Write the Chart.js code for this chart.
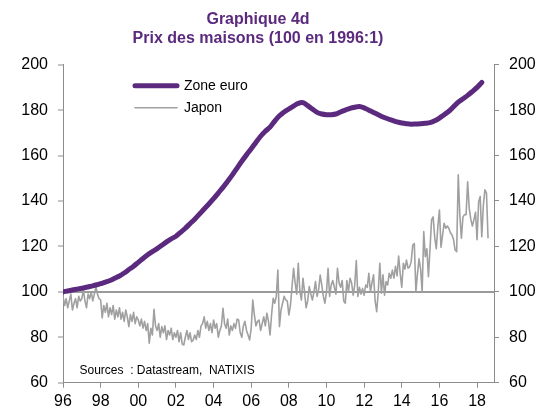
<!DOCTYPE html>
<html><head><meta charset="utf-8">
<script src="https://cdn.jsdelivr.net/npm/chart.js@4/dist/chart.umd.min.js"></script>
<style>html,body{margin:0;padding:0;background:#fff}#wrap{width:553px;height:409px}</style>
</head><body><div id="wrap"><canvas id="c" width="553" height="409"></canvas></div>
<script>
const titleLines = ['Graphique 4d', 'Prix des maisons (100 en 1996:1)'];
const sourceNote = 'Sources  : Datastream,  NATIXIS';
const seriesNames = ['Zone euro', 'Japon'];
const startYear = 1996;
// Zone euro, quarterly from 1996Q1
const euroQuarterly = [
  100, 100.4, 100.8, 101.2,
  101.6, 102.0, 102.5, 103.0,
  103.6, 104.3, 105.0, 106.0,
  107.0, 108.3, 109.8, 111.3,
  113.0, 114.7, 116.3, 117.7,
  119.0, 120.5, 122.0, 123.3,
  124.5, 126.2, 128.0, 130.0,
  132.0, 134.2, 136.5, 138.7,
  141.0, 143.5, 146.0, 148.7,
  151.5, 154.5, 157.5, 160.3,
  163.0, 165.8, 168.5, 170.7,
  172.5, 175.2, 177.5, 179.2,
  180.5, 181.8, 183.0, 183.3,
  182.0, 180.5, 179.0, 178.3,
  178.0, 178.0, 178.3, 179.2,
  180.0, 180.8, 181.3, 181.6,
  181.0, 180.0, 179.0, 178.0,
  177.0, 176.2, 175.5, 174.8,
  174.3, 174.0, 173.8, 173.9,
  174.0, 174.2, 174.5, 175.3,
  176.5, 178.0, 179.5, 181.5,
  183.5, 185.0, 186.5, 188.2,
  190.0, 192.2
];
// Japon, monthly from 1996:1
const japanMonthly = [
  98, 94, 97, 93, 96, 99, 92, 95, 97, 93, 98, 96,
  97, 100.8, 96, 93, 99, 97, 100, 96, 99, 102.3, 99, 97,
  96.4, 88.5, 94, 91, 95, 89, 93, 90, 94, 88, 92, 89,
  93, 88, 91, 87, 92, 89, 84.7, 90, 87, 91, 86, 89,
  87.6, 85, 88, 84, 87, 83, 86, 77.4, 84, 81, 92.3, 85,
  83, 86, 80, 84.7, 82, 85, 79, 83, 81, 84, 79, 82,
  80, 83, 78, 82, 77, 76.6, 80, 83, 79, 82, 78, 78.8,
  81, 79, 83, 80, 85, 86, 89, 84, 87, 83, 86, 82,
  87.6, 84, 86, 80, 83, 85, 92.8, 86, 84, 88, 81, 85,
  83, 86, 84, 88, 87.6, 82, 80, 85, 87, 83, 81, 78.8,
  84, 96.4, 90, 85, 87, 87.6, 83, 86, 89, 85, 90.6, 87,
  81, 90, 97.2, 95, 98, 109.6, 84.7, 92, 95, 98, 96.4, 96,
  89.8, 94, 102, 110.4, 104, 99, 112.6, 100.4, 96.4, 106, 100, 93,
  96, 102.3, 99, 96.4, 100, 104.5, 98, 101, 107.4, 103, 98, 95,
  100, 110.4, 98, 103, 105, 102, 99, 110.4, 104, 102, 105, 96,
  95, 105, 100, 106, 104, 98.5, 103, 113.8, 98, 102, 99, 101.5,
  98.5, 103, 102, 108.2, 100, 104, 107.5, 96, 91.3, 100, 112.6, 99.4,
  107.5, 98.5, 104.5, 103, 108.2, 106, 109.6, 106, 111.2, 107, 115.8, 108,
  102, 112.6, 110, 114, 110.4, 111, 113.3, 120.6, 121.3, 100, 108, 114.5,
  110, 100, 126.5, 115.5, 119, 106.7, 119, 131.7, 133, 124, 119, 128.7,
  136, 119.6, 125, 130.2, 128, 129, 128, 126, 125, 123, 118.4, 117.7,
  151.5, 134, 123.6, 133, 134, 134, 148.5, 136.8, 132, 129, 131.7, 135,
  123, 139.7, 142, 124.3, 138, 144.9, 143.5, 123.6
];
const yTickValues = [60, 80, 100, 120, 140, 160, 180, 200];
const xTickYears = [1996, 1998, 2000, 2002, 2004, 2006, 2008, 2010, 2012, 2014, 2016, 2018];

const FONT = '"Liberation Sans", Arial, sans-serif';
const PURPLE = '#5b2a7e';
const GREY = '#a0a0a0';
const AXIS = '#8c8c8c';

const euroPoints = euroQuarterly.map((v, i) => ({x: startYear + i / 4, y: v}));
const japanPoints = japanMonthly.map((v, i) => ({x: startYear + i / 12, y: v}));

const boxPlacer = {
  id: 'boxPlacer',
  afterLayout(chart) {
    const lg = chart.legend;
    if (lg) {
      const pad = lg.options.labels.padding;
      lg.left = 135 - pad;
      lg.top = 78.7 - pad;
    }
    const tb = chart.titleBlock;
    if (tb) {
      tb.left = 0;
      tb.right = 516;
      tb.width = 516;
    }
  }
};
const notePlugin = {
  id: 'note',
  afterDraw(chart) {
    const ctx = chart.ctx;
    ctx.save();
    ctx.font = '12px ' + FONT;
    ctx.fillStyle = '#000';
    ctx.textBaseline = 'alphabetic';
    ctx.textAlign = 'left';
    ctx.fillText(sourceNote, 79.5, 373.5);
    ctx.restore();
  }
};

const yTicksFn = s => { s.ticks = yTickValues.map(v => ({value: v})); };

new Chart(document.getElementById('c'), {
  type: 'line',
  data: {
    datasets: [
      {label: seriesNames[0], data: euroPoints, borderColor: PURPLE, backgroundColor: PURPLE,
       borderWidth: 5, borderCapStyle: 'round', borderJoinStyle: 'round',
       pointRadius: 0, pointHoverRadius: 0, pointBorderWidth: 5, pointBorderColor: PURPLE, pointStyle: 'line',
       tension: 0.3, yAxisID: 'y'},
      {label: seriesNames[1], data: japanPoints, borderColor: GREY, backgroundColor: GREY,
       borderWidth: 1.6, borderJoinStyle: 'round',
       pointRadius: 0, pointHoverRadius: 0, pointBorderWidth: 1.6, pointBorderColor: GREY, pointStyle: 'line',
       tension: 0, yAxisID: 'y'}
    ]
  },
  options: {
    responsive: false,
    animation: false,
    devicePixelRatio: 1,
    events: [],
    layout: {padding: {left: 0, right: 0, top: 0, bottom: 0}},
    plugins: {
      title: {
        display: true, text: titleLines, color: PURPLE,
        font: {family: FONT, size: 16, weight: 'bold', lineHeight: 1.2},
        padding: {top: 10, bottom: 16.3}
      },
      legend: {
        display: true, position: 'chartArea', align: 'start',
        labels: {
          usePointStyle: true, pointStyle: 'line', pointStyleWidth: 42, boxHeight: 14,
          padding: 8, color: '#000', font: {family: FONT, size: 14},
          generateLabels: chart => Chart.defaults.plugins.legend.labels.generateLabels(chart)
            .map(l => Object.assign(l, {lineCap: 'round'}))
        }
      },
      tooltip: {enabled: false}
    },
    scales: {
      x: {
        type: 'linear', position: 'bottom', min: 1996, max: 2018.9,
        afterBuildTicks: s => { s.ticks = xTickYears.map(v => ({value: v})); },
        afterFit: s => { s.height = 26.3; },
        ticks: {autoSkip: false, maxRotation: 0, padding: 4, color: '#000',
                font: {family: FONT, size: 16}, callback: v => String(v).slice(2)},
        grid: {drawOnChartArea: false, drawTicks: true, tickLength: 5, tickColor: AXIS, tickWidth: 1},
        border: {color: AXIS, width: 1}
      },
      y: {
        position: 'left', min: 60, max: 200,
        afterBuildTicks: yTicksFn,
        afterFit: s => { s.width = 63; },
        ticks: {padding: 10, color: '#000', font: {family: FONT, size: 16}},
        grid: {
          drawOnChartArea: true, drawTicks: true, tickLength: 5, tickColor: AXIS, tickWidth: 1,
          color: c => (c.tick && c.tick.value === 100) ? '#9a9a9a' : 'rgba(0,0,0,0)',
          lineWidth: c => (c.tick && c.tick.value === 100) ? 2 : 0
        },
        border: {color: AXIS, width: 1}
      },
      y2: {
        position: 'right', min: 60, max: 200,
        afterBuildTicks: yTicksFn,
        afterFit: s => { s.width = 59; },
        ticks: {padding: 10, color: '#000', font: {family: FONT, size: 16}},
        grid: {drawOnChartArea: false, drawTicks: true, tickLength: 5, tickColor: AXIS, tickWidth: 1, color: AXIS},
        border: {color: AXIS, width: 1}
      }
    }
  },
  plugins: [boxPlacer, notePlugin]
});
</script>
</body></html>
